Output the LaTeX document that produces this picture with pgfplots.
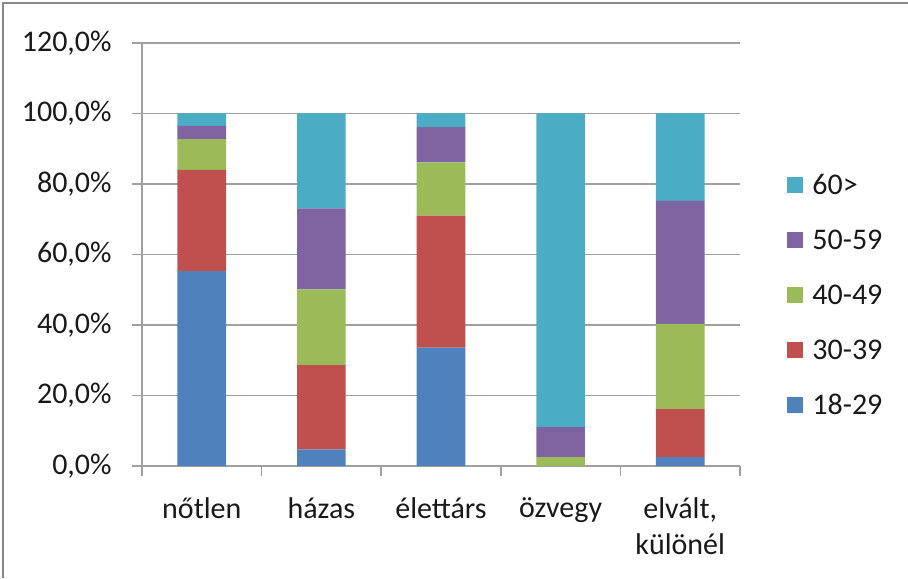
\documentclass[border=0pt]{standalone}
\usepackage{fontspec}
\setmainfont{Carlito}
\usepackage{pgfplots}
\pgfplotsset{compat=1.18}

\definecolor{cblue}{HTML}{4F81BD}
\definecolor{cred}{HTML}{C0504D}
\definecolor{cgreen}{HTML}{9BBB59}
\definecolor{cpurple}{HTML}{8064A2}
\definecolor{cteal}{HTML}{4BACC6}
\definecolor{axgray}{HTML}{A0A0A0}
\definecolor{framegray}{HTML}{888888}

\begin{document}
\begin{tikzpicture}
\fontsize{15}{18}\selectfont
\useasboundingbox (0,0) rectangle (454pt,289pt);
\draw[framegray, line width=1pt] (1.5pt,0) -- (1.5pt,287.5pt) -- (454pt,287.5pt);
\begin{axis}[
    at={(71pt,56pt)}, anchor=south west,
    scale only axis, width=299pt, height=211.5pt,
    xmin=-0.5, xmax=4.5, ymin=0, ymax=120,
    ybar stacked, bar width=0.407,
    axis lines*=left,
    axis line style={axgray, line width=0.8pt},
    ytick={0,20,...,120},
    ymajorgrids, grid style={axgray, line width=0.8pt},
    xtick={0,1,2,3,4},
    xticklabels={nőtlen,házas,élettárs,özvegy,{elvált,\\különél}},
    minor xtick={-0.5,0.5,1.5,2.5,3.5,4.5},
    major x tick style={draw=none},
    minor x tick style={axgray, line width=0.8pt},
    major y tick style={axgray, line width=0.8pt},
    tick align=outside,
    major tick length=5pt, minor tick length=5pt,
    /pgf/number format/assume math mode=true,
    yticklabel={\pgfmathprintnumber[fixed,fixed zerofill,precision=1,use comma]{\tick}\%},
    ticklabel style={font=\fontsize{15}{18}\selectfont, text=black!90},
    xticklabel style={align=center, anchor=north, inner sep=0pt, yshift=-10.5pt},
    yticklabel style={anchor=east, inner sep=0pt, xshift=-10pt},
    reverse legend,
    legend style={at={(1.0786,0.694)}, anchor=north west, draw=none, fill=none,
        inner sep=0pt, row sep=13.5pt, column sep=4.5pt,
        font=\fontsize{15}{18}\selectfont, text=black!90,
        nodes={inner sep=0pt, text height=11pt, text depth=3pt, anchor=base west}},
    legend image code/.code={\fill[#1] (0pt,0.8pt) rectangle (8pt,8.8pt);},
]
\addplot[fill=cblue, draw=none] coordinates {(0,55.3) (1,4.7) (2,33.6) (3,0) (4,2.5)};
\addplot[fill=cred, draw=none] coordinates {(0,28.7) (1,23.9) (2,37.4) (3,0) (4,13.6)};
\addplot[fill=cgreen, draw=none] coordinates {(0,8.7) (1,21.5) (2,15.1) (3,2.5) (4,24.2)};
\addplot[fill=cpurple, draw=none] coordinates {(0,3.8) (1,23.0) (2,10.0) (3,8.5) (4,34.9)};
\addplot[fill=cteal, draw=none] coordinates {(0,3.5) (1,26.9) (2,3.9) (3,89.0) (4,24.8)};
\legend{18-29,30-39,40-49,50-59,60>}
\end{axis}
\end{tikzpicture}
\end{document}
